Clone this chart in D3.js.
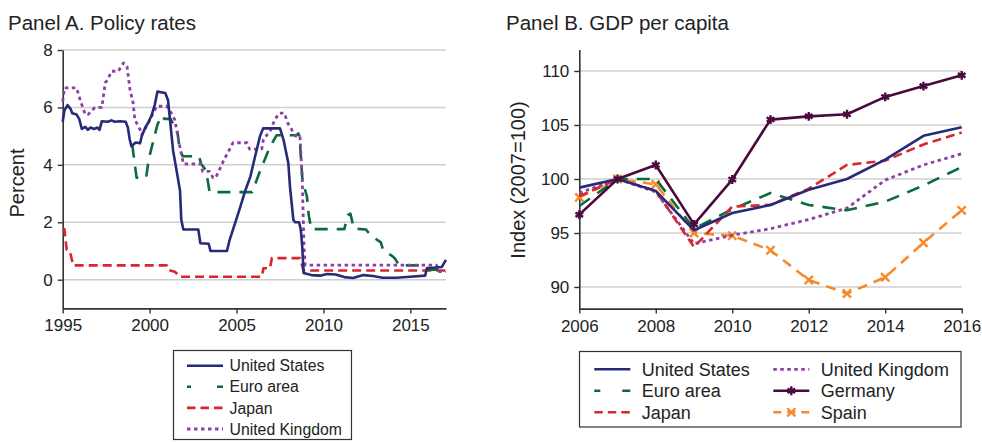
<!DOCTYPE html>
<html><head><meta charset="utf-8">
<script src="https://cdn.jsdelivr.net/npm/d3@7/dist/d3.min.js"></script>
<style>
html,body{margin:0;padding:0;background:#fff;}
svg{display:block;font-family:"Liberation Sans",Arial,Helvetica,sans-serif;}
</style></head>
<body>
<svg id="chart" width="982" height="442"></svg>
<script>
// ---------- Panel A data: policy rates (decimal year, percent) ----------
const usRates = [[1995.0,5.5],[1995.1,5.9],[1995.28,6.08],[1995.45,5.95],[1995.55,5.8],[1995.8,5.75],[1995.95,5.6],[1996.1,5.25],[1996.3,5.32],[1996.45,5.22],[1996.6,5.3],[1996.8,5.25],[1997.0,5.3],[1997.12,5.22],[1997.25,5.52],[1997.6,5.5],[1997.8,5.55],[1998.0,5.5],[1998.3,5.52],[1998.62,5.5],[1998.75,5.3],[1998.85,4.9],[1998.95,4.65],[1999.2,4.78],[1999.45,4.75],[1999.55,5.0],[1999.75,5.3],[1999.9,5.45],[2000.1,5.7],[2000.3,6.1],[2000.45,6.55],[2000.9,6.5],[2001.06,6.25],[2001.2,5.4],[2001.35,4.5],[2001.58,3.7],[2001.75,3.1],[2001.82,2.1],[2001.94,1.75],[2002.8,1.75],[2002.92,1.27],[2003.4,1.25],[2003.5,1.0],[2004.45,1.0],[2004.6,1.38],[2005.2,2.5],[2005.5,3.1],[2005.8,3.6],[2006.07,4.3],[2006.35,5.0],[2006.53,5.27],[2007.5,5.27],[2007.7,4.88],[2007.98,4.06],[2008.08,3.2],[2008.27,2.08],[2008.37,2.0],[2008.6,2.0],[2008.7,1.73],[2008.78,1.15],[2008.86,0.23],[2009.3,0.16],[2009.8,0.14],[2010.2,0.2],[2010.7,0.18],[2011.2,0.09],[2011.7,0.06],[2012.3,0.16],[2012.85,0.13],[2013.4,0.07],[2014.2,0.07],[2015.0,0.1],[2015.85,0.14],[2015.95,0.4],[2016.8,0.44],[2017.05,0.69]];
const euroRates = [[1999.0,4.7],[1999.25,3.55],[1999.8,3.55],[1999.95,4.2],[2000.2,4.8],[2000.45,5.4],[2000.7,5.72],[2000.85,5.6],[2001.2,5.6],[2001.6,5.15],[2001.72,4.6],[2001.9,4.3],[2002.85,4.3],[2002.95,4.05],[2003.25,3.8],[2003.45,3.05],[2005.9,3.05],[2006.3,3.7],[2006.9,4.6],[2007.3,5.03],[2008.45,5.03],[2008.55,5.1],[2008.62,5.0],[2008.8,3.4],[2009.05,2.9],[2009.15,2.26],[2009.3,1.76],[2011.2,1.76],[2011.4,2.25],[2011.55,2.3],[2011.75,1.78],[2012.45,1.75],[2012.7,1.55],[2013.3,1.3],[2013.45,1.0],[2013.9,0.85],[2014.1,0.75],[2014.35,0.5],[2015.9,0.5],[2016.05,0.35],[2017.05,0.35]];
const japanRates = [[1995.0,1.79],[1995.1,1.75],[1995.23,1.04],[1995.42,0.98],[1995.6,0.5],[2000.98,0.5],[2001.07,0.34],[2001.45,0.28],[2001.75,0.1],[2006.45,0.1],[2006.55,0.4],[2006.93,0.4],[2007.03,0.75],[2008.65,0.75],[2008.85,0.32],[2017.05,0.32]];
const ukRates = [[1995.0,6.21],[1995.1,6.68],[1995.8,6.68],[1996.0,6.27],[1996.3,5.75],[1996.45,5.75],[1996.85,6.0],[1997.25,6.0],[1997.45,6.86],[1997.6,6.97],[1997.8,7.26],[1998.2,7.26],[1998.5,7.55],[1998.7,7.43],[1998.87,6.62],[1999.05,6.16],[1999.15,5.57],[1999.45,5.23],[1999.55,5.05],[1999.93,5.46],[2000.2,5.8],[2000.4,6.04],[2001.0,6.04],[2001.25,5.8],[2001.45,5.57],[2001.65,4.9],[2001.87,4.25],[2001.95,4.03],[2002.95,4.03],[2003.05,3.77],[2003.45,3.77],[2003.65,3.55],[2003.8,3.55],[2004.3,4.2],[2004.8,4.77],[2005.6,4.77],[2005.75,4.55],[2006.45,4.55],[2006.55,4.88],[2006.95,5.2],[2007.2,5.57],[2007.45,5.8],[2007.75,5.8],[2007.95,5.45],[2008.2,5.2],[2008.4,5.0],[2008.65,5.0],[2008.78,3.5],[2008.88,1.15],[2008.95,0.51],[2016.5,0.51],[2016.67,0.28],[2017.05,0.28]];

const aSeriesNames = ["United States","Euro area","Japan","United Kingdom"];
const aTicksX = [1995,2000,2005,2010,2015];
const aTicksY = [0,2,4,6,8];

// ---------- Panel B data: GDP per capita index (2007=100) ----------
const years = [2006,2007,2008,2009,2010,2011,2012,2013,2014,2015,2016];
const gdpUS      = [99.2,100,98.9,95.25,96.85,97.6,99.0,100.0,101.8,104.0,104.8];
const gdpEuro    = [97.5,100,100.0,95.4,97.2,98.7,97.6,97.1,97.9,99.4,101.1];
const gdpJapan   = [98.4,100,98.9,93.7,97.45,97.6,99.1,101.3,101.7,103.2,104.3];
const gdpUK      = [98.7,100,98.8,94.0,94.8,95.4,96.25,97.3,99.9,101.3,102.35];
const gdpGermany = [96.7,100,101.3,95.8,99.95,105.5,105.8,106.0,107.6,108.6,109.6];
const gdpSpain   = [98.3,100,99.5,95.0,94.75,93.4,90.65,89.4,90.9,94.1,97.1];
const bSeriesNames = ["United States","Euro area","Japan","United Kingdom","Germany","Spain"];
const bTicksX = [2006,2008,2010,2012,2014,2016];
const bTicksY = [90,95,100,105,110];

// ---------- styles ----------
const styles = {
  "United States":  {color:"#262a78", dash:null,        width:2.6},
  "Euro area":      {color:"#0b6b3a", dash:"13,9",      width:2.6},
  "Japan":          {color:"#d9252c", dash:"9,5",       width:2.6},
  "United Kingdom": {color:"#8d3fa6", dash:"3.5,3.5",   width:2.8},
  "Germany":        {color:"#4b0a3e", dash:null,        width:2.6, marker:"asterisk"},
  "Spain":          {color:"#f7892b", dash:"10,7",      width:2.6, marker:"times"}
};

const svg = d3.select("#chart");
const FONT = "Liberation Sans, Arial, Helvetica, sans-serif";
const textColor = "#222";

function drawAxes(g, x, y, xt, yt, xr, yr) {
  // gridlines
  g.append("g").selectAll("line").data(yt).join("line")
    .attr("x1", xr[0]).attr("x2", xr[1])
    .attr("y1", d => y(d)).attr("y2", d => y(d))
    .attr("stroke", "#cfcfcf").attr("stroke-width", 1.5);
  const xa = g.append("g").attr("transform", `translate(0,${yr[0]})`)
    .call(d3.axisBottom(x).tickValues(xt).tickFormat(d3.format("d")).tickSize(5).tickPadding(6).tickSizeOuter(0));
  const ya = g.append("g").attr("transform", `translate(${xr[0]},0)`)
    .call(d3.axisLeft(y).tickValues(yt).tickSize(5).tickPadding(5).tickSizeOuter(0));
  [xa, ya].forEach(a => {
    a.select(".domain").attr("stroke", "#333").attr("stroke-width", 1.6);
    a.selectAll(".tick line").attr("stroke", "#333").attr("stroke-width", 1.4);
    a.selectAll(".tick text").attr("fill", textColor).style("font-size", "17px").style("font-family", FONT);
  });
}

// ---------- Panel A ----------
const xA = d3.scaleLinear().domain([1995, 2017.05]).range([62.7, 446]);
const yA = d3.scaleLinear().domain([-1, 8]).range([308.4, 50]);
const gA = svg.append("g");
drawAxes(gA, xA, yA, aTicksX, aTicksY, [62.7, 446], [308.4, 50]);

const lineA = d3.line().x(d => xA(d[0])).y(d => yA(d[1]));
const aData = [usRates, euroRates, japanRates, ukRates];
// draw order: Japan, Euro, UK, US on top? reference: US above others
const aOrder = [2, 1, 3, 0];
aOrder.forEach(i => {
  const s = styles[aSeriesNames[i]];
  gA.append("path").datum(aData[i]).attr("d", lineA)
    .attr("fill", "none").attr("stroke", s.color).attr("stroke-width", s.width)
    .attr("stroke-dasharray", s.dash).attr("stroke-linejoin", "round");
});

gA.append("text").attr("x", 8).attr("y", 30).text("Panel A. Policy rates")
  .attr("fill", textColor).style("font-size", "20.5px").style("font-family", FONT);
gA.append("text").attr("transform", "translate(24,183) rotate(-90)").attr("text-anchor", "middle")
  .text("Percent").attr("fill", textColor).style("font-size", "20px").style("font-family", FONT);

// Legend A
const legA = svg.append("g");
legA.append("rect").attr("x", 173.5).attr("y", 350.5).attr("width", 178).attr("height", 89)
  .attr("fill", "#fff").attr("stroke", "#333").attr("stroke-width", 1.2);
aSeriesNames.forEach((n, i) => {
  const s = styles[n];
  const cy = 365.7 + i * 21.1;
  legA.append("line").attr("x1", 187).attr("x2", 223).attr("y1", cy).attr("y2", cy)
    .attr("stroke", s.color).attr("stroke-width", s.width)
    .attr("stroke-dasharray", n === "Euro area" ? "4,26,10" : (n === "Japan" ? "8.5,5" : s.dash));
  legA.append("text").attr("x", 229.5).attr("y", cy + 5.6).text(n)
    .attr("fill", textColor).style("font-size", "15.8px").style("font-family", FONT);
});

// ---------- Panel B ----------
const xB = d3.scaleLinear().domain([2006, 2016]).range([579.3, 961.7]);
const yB = d3.scaleLinear().domain([88, 112]).range([308.6, 49.4]);
const gB = svg.append("g");
drawAxes(gB, xB, yB, bTicksX, bTicksY, [579.3, 961.7], [308.6, 49.4]);

const bData = [gdpUS, gdpEuro, gdpJapan, gdpUK, gdpGermany, gdpSpain];
const lineB = d3.line().x((d, i) => xB(years[i])).y(d => yB(d));
const bOrder = [5, 3, 1, 2, 0, 4];
function markerPath(type) {
  return d3.symbol().type(type === "asterisk" ? d3.symbolAsterisk : d3.symbolTimes).size(type === "asterisk" ? 55 : 45)();
}
bOrder.forEach(i => {
  const n = bSeriesNames[i], s = styles[n];
  gB.append("path").datum(bData[i]).attr("d", lineB)
    .attr("fill", "none").attr("stroke", s.color).attr("stroke-width", s.width)
    .attr("stroke-dasharray", s.dash).attr("stroke-linejoin", "round");
  if (s.marker) {
    gB.append("g").selectAll("path").data(bData[i]).join("path")
      .attr("d", markerPath(s.marker))
      .attr("transform", (d, j) => `translate(${xB(years[j])},${yB(d)})`)
      .attr("fill", "none").attr("stroke", s.color).attr("stroke-width", 2.4);
  }
});

gB.append("text").attr("x", 506).attr("y", 30).text("Panel B. GDP per capita")
  .attr("fill", textColor).style("font-size", "20.5px").style("font-family", FONT);
gB.append("text").attr("transform", "translate(525,180) rotate(-90)").attr("text-anchor", "middle")
  .text("Index (2007=100)").attr("fill", textColor).style("font-size", "20px").style("font-family", FONT);

// Legend B
const legB = svg.append("g");
legB.append("rect").attr("x", 579.5).attr("y", 351.5).attr("width", 381.5).attr("height", 75.5)
  .attr("fill", "#fff").attr("stroke", "#333").attr("stroke-width", 1.2);
bSeriesNames.forEach((n, i) => {
  const s = styles[n];
  const col = Math.floor(i / 3), row = i % 3;
  const x0 = col === 0 ? 594.3 : 773.3;
  const cy = 369.3 + row * 21.5;
  const dash = n === "Euro area" ? "6,22,8" : n === "Spain" ? "8,6,8,6,8" : n === "Japan" ? "8.5,5" : s.dash;
  legB.append("line").attr("x1", x0).attr("x2", x0 + 36).attr("y1", cy).attr("y2", cy)
    .attr("stroke", s.color).attr("stroke-width", s.width).attr("stroke-dasharray", dash);
  if (s.marker) {
    legB.append("path").attr("d", markerPath(s.marker))
      .attr("transform", `translate(${x0 + 18},${cy})`)
      .attr("fill", "none").attr("stroke", s.color).attr("stroke-width", 2.4);
  }
  legB.append("text").attr("x", x0 + 47.5).attr("y", cy + 6.4).text(n)
    .attr("fill", textColor).style("font-size", "18px").style("font-family", FONT);
});
</script>
</body></html>
